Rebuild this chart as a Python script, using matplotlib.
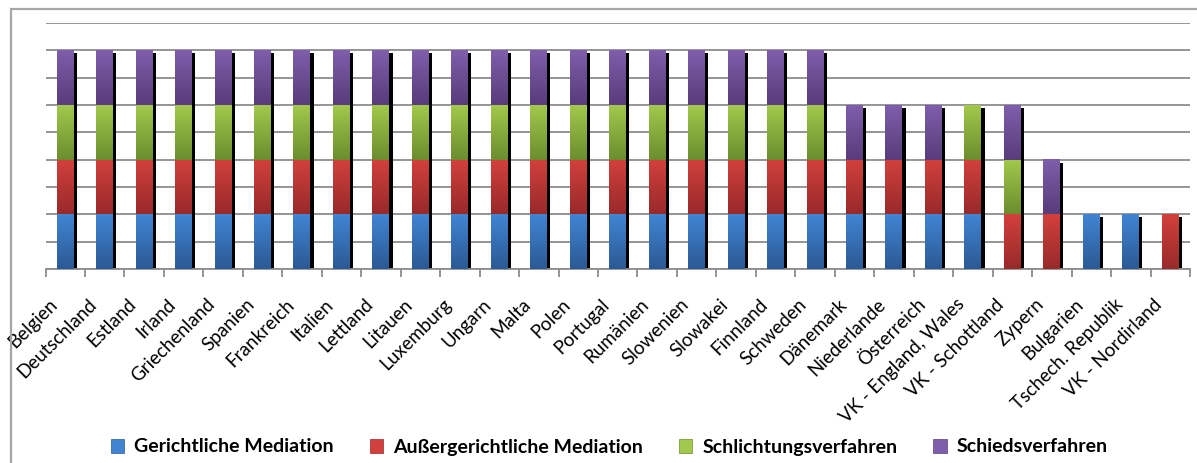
import numpy as np
import matplotlib.pyplot as plt
from matplotlib.colors import LinearSegmentedColormap
from matplotlib.patches import Patch, Rectangle
from matplotlib.transforms import ScaledTranslation

plt.rcParams['font.family'] = ['Lato', 'DejaVu Sans']

laender = ['Belgien', 'Deutschland', 'Estland', 'Irland', 'Griechenland', 'Spanien',
           'Frankreich', 'Italien', 'Lettland', 'Litauen', 'Luxemburg', 'Ungarn', 'Malta',
           'Polen', 'Portugal', 'Rumänien', 'Slowenien', 'Slowakei', 'Finnland', 'Schweden',
           'Dänemark', 'Niederlande', 'Österreich', 'VK - England, Wales', 'VK - Schottland',
           'Zypern', 'Bulgarien', 'Tschech. Republik', 'VK - Nordirland']

gerichtlich   = [1]*20 + [1, 1, 1, 1, 0, 0, 1, 1, 0]
aussergericht = [1]*20 + [1, 1, 1, 1, 1, 1, 0, 0, 1]
schlichtung   = [1]*20 + [0, 0, 0, 1, 1, 0, 0, 0, 0]
schieds       = [1]*20 + [1, 1, 1, 0, 1, 1, 0, 0, 0]

reihen = ['Gerichtliche Mediation', 'Außergerichtliche Mediation',
          'Schlichtungsverfahren', 'Schiedsverfahren']
# (oben hell, unten dunkel)
farben = [('#4184d2', '#2b5a95'), ('#d2403d', '#982a2a'),
          ('#a2c84c', '#6b8d2e'), ('#7f5eab', '#583c7b')]


def verlauf(ax, x, y0, h, c_oben, c_unten, w):
    cm = LinearSegmentedColormap.from_list('v', [c_unten, c_oben])
    ax.imshow(np.linspace(0, 1, 64).reshape(-1, 1), cmap=cm, origin='lower',
              extent=[x - w / 2, x + w / 2, y0, y0 + h], aspect='auto',
              interpolation='bilinear', zorder=3)


fig = plt.figure(figsize=(11.97, 4.63), dpi=100)
ax = fig.add_axes([45.5 / 1197, 1 - 269 / 463, (1190 - 45.5) / 1197, (269 - 23) / 463])

x = np.arange(len(laender))
breite = 0.41
mitte = x - 0.012
daten = [gerichtlich, aussergericht, schlichtung, schieds]
gesamt = np.sum(daten, axis=0)

# schatten
ax.bar(mitte + 0.1, gesamt - 0.055, width=breite, color='black', zorder=2)

for i in x:
    unten = 0
    for r, werte in enumerate(daten):
        if werte[i]:
            verlauf(ax, mitte[i], unten, werte[i], farben[r][0], farben[r][1], breite)
            unten += werte[i]

ax.set_xlim(-0.5, len(laender) - 0.5)
ax.set_ylim(0, 4.5)
ax.set_yticks(np.arange(0, 4.51, 0.5))
ax.yaxis.grid(True, color='#8c8c8c', linewidth=1.3)
ax.set_axisbelow(True)
ax.tick_params(axis='y', length=0, labelleft=False)
for s in ['left', 'right', 'top']:
    ax.spines[s].set_visible(False)
ax.spines['bottom'].set_color('#8c8c8c')
ax.spines['bottom'].set_linewidth(1.3)

ax.set_xticks(x)
ax.set_xticklabels(laender, rotation=45, ha='right', va='top', fontsize=13.5)
ax.set_xticks(np.arange(-0.5, len(laender)), minor=True)
ax.tick_params(axis='x', which='major', length=0, pad=12)
ax.tick_params(axis='x', which='minor', length=6, color='#8c8c8c', width=1.3)
versatz = ScaledTranslation(-0.05, -0.1, fig.dpi_scale_trans)
for lab in ax.get_xticklabels():
    lab.set_transform(lab.get_transform() + versatz)

# rahmen
fig.add_artist(Rectangle((11 / 1197, -0.5), 2, 0.5 + 1 - 9 / 463, transform=fig.transFigure,
                         fill=False, edgecolor='#a6a6a6', linewidth=1.6))

griffe = [Patch(facecolor=f[0], edgecolor=f[1], linewidth=0.5) for f in farben]
fig.legend(griffe, reihen, loc='center', bbox_to_anchor=(0.509, 1 - 447 / 463), ncol=4,
           frameon=False, prop={'weight': 'bold', 'size': 14}, handlelength=0.7,
           handleheight=0.7, handletextpad=0.5, columnspacing=1.85)

fig.savefig('out.png', dpi=100)
